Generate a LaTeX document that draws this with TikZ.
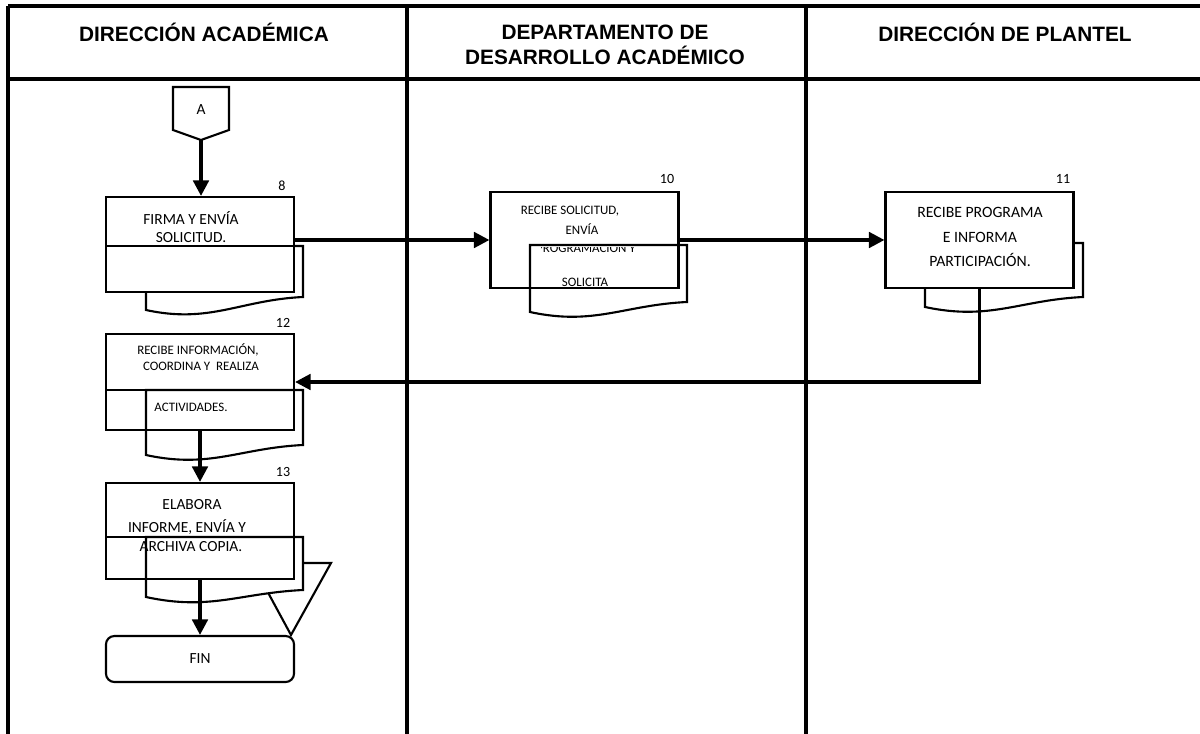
\documentclass[tikz,border=0pt]{standalone}
\usepackage{fontspec}
\setmainfont{Carlito}
\newfontfamily\headfont{Liberation Sans}
\usetikzlibrary{arrows.meta}
\begin{document}
\begin{tikzpicture}[x=0.025cm, y=-0.025cm,
  frame/.style={line width=2.4pt},
  box/.style={draw, line width=1.5pt, minimum width=4.7cm, minimum height=2.4cm, inner sep=0pt},
  doc/.style={draw, fill=white, line width=1.5pt},
  flow/.style={line width=2.4pt, -{Triangle[length=11pt, width=11pt]}},
  head/.style={font=\headfont\bfseries\fontsize{14.8}{17.7}\selectfont, align=center},
  txt/.style={font=\fontsize{11}{12.8}\selectfont, align=center, inner sep=0pt},
  small/.style={font=\fontsize{9.2}{10}\selectfont, inner sep=0pt},
  num/.style={font=\fontsize{10}{12}\selectfont, inner sep=0pt}]
\useasboundingbox (0,0) rectangle (1200,734);
\draw[frame] (8,6) -- (1200,6);
\draw[frame] (8,79) -- (1200,79);
\draw[frame] (8,6) -- (8,734);
\draw[frame] (407,6) -- (407,734);
\draw[frame] (806,6) -- (806,734);
\node[head] (h_1) at (204,32) {DIRECCIÓN ACADÉMICA};
\node[head] (h_2) at (605,45) {DEPARTAMENTO DE\\DESARROLLO ACADÉMICO};
\node[head] (h_3) at (1005,32) {DIRECCIÓN DE PLANTEL};
\draw[line width=1.5pt] (173,87) -- (229,87) -- (229,130) -- (201,140) -- (173,130) -- cycle;
\coordinate (conA) at (201,140);
\node[num, font=\fontsize{11}{12}\selectfont] (t_A) at (201,110) {A};
\draw[doc] (146,246) -- (303,246) -- (303,297) .. controls (240,300) and (210,324) .. (146,310) -- cycle;
\node[box, fill=white, minimum height=2.375cm] (box8) at (200,244.5) {};
\draw[line width=1.5pt] (106,246) -- (303,246);
\node[num] (n_8) at (282,186) {8};
\node[txt] (t_8) at (191,227) {FIRMA Y ENVÍA\\SOLICITUD.};
\node[box, fill=white] (box10) at (584.5,240) {};
\draw[doc, fill=none] (530,245) -- (687,245) -- (687,302) .. controls (624,305) and (594,326) .. (530,312) -- cycle;
\node[num] (n_10) at (667,179) {10};
\node[small] (t_10a) at (570,211) {RECIBE SOLICITUD,};
\node[small] (t_10b) at (582,229) {ENVÍA};
\begin{scope}
\clip (541,248) rectangle (687,302);
\node[small, anchor=base] (t_10c) at (586,253) {PROGRAMACIÓN Y};
\end{scope}
\node[small] (t_10d) at (585,282) {SOLICITA};
\draw[doc] (925,243) -- (1083,243) -- (1083,297) .. controls (1020,300) and (990,321) .. (925,307) -- cycle;
\node[box, fill=white] (box11) at (979.5,240) {};
\node[num] (n_11) at (1063,179) {11};
\node[txt, font=\fontsize{11.2}{17.4}\selectfont] (t_11) at (980,237) {RECIBE PROGRAMA\\E INFORMA\\PARTICIPACIÓN.};
\draw[doc, fill=none] (146,390) -- (303,390) -- (303,445) .. controls (240,448) and (210,469) .. (146,455) -- cycle;
\node[box] (box12) at (200,382) {};
\draw[line width=1.5pt] (106,390) -- (146,390);
\node[num] (n_12) at (283,323) {12};
\node[small] (t_12a) at (198,350) {RECIBE INFORMACIÓN,};
\node[small] (t_12b) at (201,366) {COORDINA Y~ REALIZA};
\node[small] (t_12c) at (191,407) {ACTIVIDADES.};
\draw[line width=1.5pt] (252,563) -- (331,563) -- (291,635) -- cycle;
\draw[doc] (146,537) -- (303,537) -- (303,590) .. controls (240,593) and (210,611) .. (146,597) -- cycle;
\node[box] (box13) at (200,531) {};
\draw[line width=1.5pt] (106,537) -- (146,537);
\node[num] (n_13) at (283,472) {13};
\node[txt] (t_13a) at (192,505) {ELABORA};
\node[txt] (t_13b) at (187,527) {INFORME, ENVÍA Y};
\node[txt] (t_13c) at (191,547) {ARCHIVA COPIA.};
\node[box, rounded corners=6pt, minimum height=1.15cm] (fin) at (200,659) {};
\node[txt] (t_fin) at (200,659) {FIN};
\draw[flow] (conA) -- (conA |- box8.north);
\draw[flow] (box8.east |- box10.west) -- (box10.west);
\draw[flow] (box10.east) -- (box11.west);
\draw[flow] (box11.south) -- (box11.south |- box12.east) -- (box12.east);
\draw[flow] (box12.south) -- (box13.north);
\draw[flow] (box13.south) -- (fin.north);
\end{tikzpicture}
\end{document}
